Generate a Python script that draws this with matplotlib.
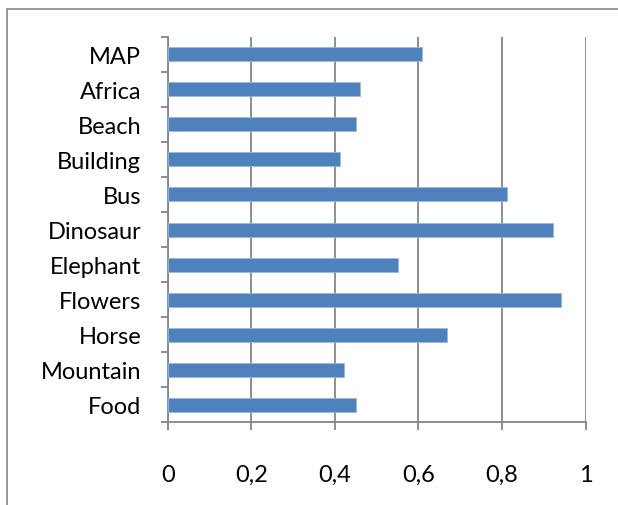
import matplotlib.pyplot as plt
from matplotlib.patches import Rectangle
import numpy as np

# categories listed top to bottom as in the chart
categories = ['MAP', 'Africa', 'Beach', 'Building', 'Bus', 'Dinosaur',
              'Elephant', 'Flowers', 'Horse', 'Mountain', 'Food']
values = [0.608, 0.459, 0.450, 0.411, 0.812, 0.922,
          0.550, 0.941, 0.669, 0.421, 0.450]
xticks = [0, 0.2, 0.4, 0.6, 0.8, 1.0]
xticklabels = ['0', '0,2', '0,4', '0,6', '0,8', '1']

plt.rcParams['font.family'] = ['Lato', 'DejaVu Sans']
grey = '#868686'

fig = plt.figure(figsize=(6.18, 5.06), dpi=100)
fig.patches.append(Rectangle((7 / 618, -0.1), 1.2, 1 - 10 / 506 + 0.1,
                             transform=fig.transFigure, fill=False,
                             edgecolor=grey, linewidth=1.2))
ax = fig.add_axes([0.2714, 0.1634, 0.6763, 0.762])

n = len(categories)
y = np.arange(n)[::-1]
ax.barh(y, values, height=0.4, color='#4F81BD', edgecolor='#9DB7DA',
        linewidth=0.6, zorder=3)

ax.set_xlim(0, 1)
ax.set_ylim(-0.5, n - 0.5)
ax.set_xticks(xticks)
ax.set_xticklabels(xticklabels, fontsize=17)
ax.xaxis.grid(True, color=grey, linewidth=1.3, zorder=0)

ax.set_yticks(np.arange(n + 1) - 0.5)
ax.set_yticklabels([])
ax.set_yticks(y, minor=True)
ax.set_yticklabels(categories, minor=True, fontsize=17)
ax.tick_params(axis='y', which='major', length=5, color=grey, width=1.3)
ax.tick_params(axis='y', which='minor', length=0, pad=19)
ax.tick_params(axis='x', length=6, color=grey, width=1.3, pad=24)

for s in ['top', 'right']:
    ax.spines[s].set_visible(False)
for s in ['left', 'bottom']:
    ax.spines[s].set_color(grey)
    ax.spines[s].set_linewidth(1.3)

fig.savefig('out.png', dpi=100)
